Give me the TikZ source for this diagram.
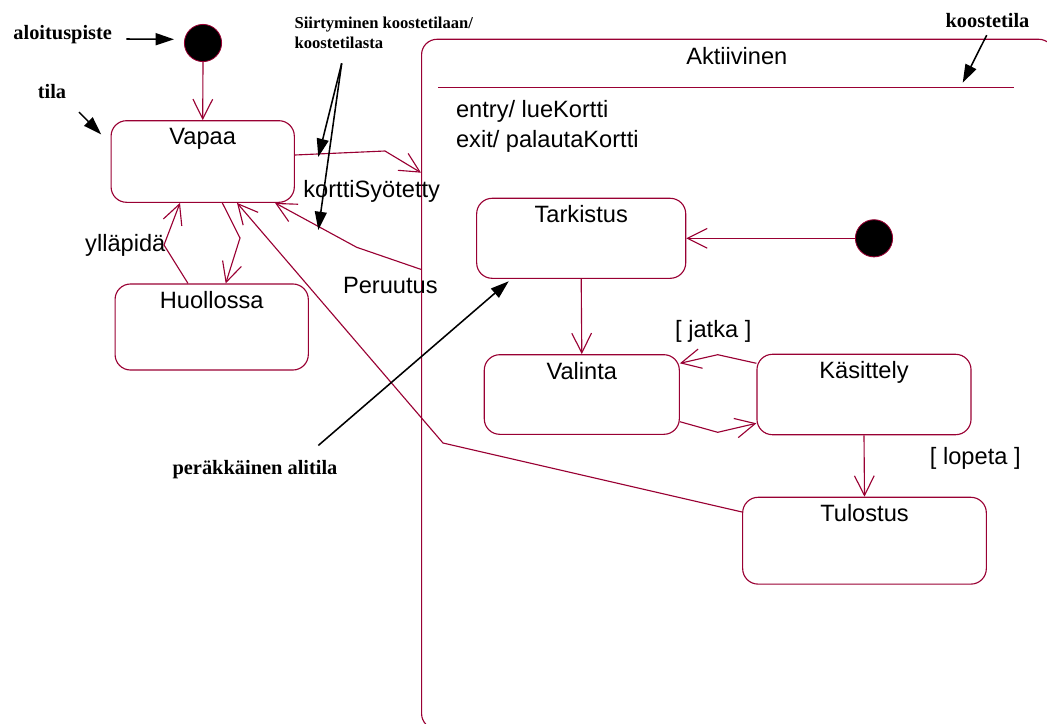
\documentclass[tikz,border=0pt]{standalone}
\usepackage{fontspec}
\setmainfont{Liberation Sans}
\newfontfamily\notefont{Liberation Serif}
\usetikzlibrary{arrows.meta, calc, positioning}
\definecolor{umlred}{RGB}{153,0,51}

\begin{document}
\begin{tikzpicture}[
    x=0.025cm, y=-0.025cm,
    state/.style={rectangle, rounded corners=11pt, draw=umlred, line width=0.8pt, inner sep=0pt},
    statename/.style={font=\fontsize{16.8}{20}\selectfont, inner sep=0pt, anchor=north, yshift=-5.5pt},
    composite/.style={rectangle, rounded corners=11pt, draw=umlred, line width=0.8pt, inner sep=0pt},
    initial/.style={circle, fill=black, draw=umlred, line width=0.6pt, minimum size=0.93cm, inner sep=0pt},
    translabel/.style={font=\fontsize{16.8}{20}\selectfont, inner sep=0pt},
    notelabel/.style={font=\notefont\bfseries\fontsize{14.5}{17}\selectfont, inner sep=0pt},
    trans/.style={draw=umlred, line width=0.8pt, -{Straight Barb[length=14pt, width=14pt]}},
    note/.style={line width=1.1pt, -{Triangle[length=13pt, width=8.5pt]}}
]
\useasboundingbox (0,0) rectangle (1047,724);

% outer states
\node[initial] (start1) at (203,43) {};
\node[state, minimum width=4.58cm, minimum height=2.04cm, label={[statename]north:Vapaa}] (vapaa) at (202.7,161.5) {};
\node[state, minimum width=4.83cm, minimum height=2.15cm, label={[statename]north:Huollossa}] (huollossa) at (211.7,327) {};

% composite state
\node[composite, minimum width=15.81cm, minimum height=17.24cm] (aktiivinen) at (737.85,384.15) {};
\node[translabel] (title) at (736.8,55.7) {Aktiivinen};
\draw[draw=umlred, line width=0.8pt] (438,87.3) -- (1014.3,87.3);
\node[translabel, anchor=west, align=left, font=\fontsize{16.8}{21.3}\selectfont] (actions) at (455.8,126.7) {entry/ lueKortti\\exit/ palautaKortti};

% substates
\node[initial] (start2) at (874,238.3) {};
\node[state, minimum width=5.225cm, minimum height=2.0cm, label={[statename]north:Tarkistus}] (tarkistus) at (581.2,238.3) {};
\node[state, minimum width=4.875cm, minimum height=1.99cm, label={[statename]north:Valinta}] (valinta) at (581.8,394.5) {};
\node[state, minimum width=5.35cm, minimum height=2.01cm, label={[statename]north:Käsittely}] (kasittely) at (864,394.5) {};
\node[state, minimum width=6.09cm, minimum height=2.17cm, label={[statename]north:Tulostus}] (tulostus) at (864.5,540.7) {};

% transition labels
\node[translabel] (yllapida) at (125.3,245.7) {ylläpidä};
\node[translabel] (kortti) at (371.7,191.7) {korttiSyötetty};
\node[translabel] (peruutus) at (390.3,285) {Peruutus};
\node[translabel] (jatka) at (713.3,331.7) {[ jatka ]};
\node[translabel] (lopeta) at (975.3,458.3) {[ lopeta ]};

% transitions
\draw[trans] (start1.south) -- (vapaa.north);
\draw[trans] ($(huollossa.north)+(-23.7,0)$) -- (164,245) -- ($(vapaa.south)+(-22.7,0)$);
\draw[trans] ($(vapaa.south)+(19.6,0)$) -- (240,238) -- ($(huollossa.north)+(14,0)$);
\draw[trans] ($(vapaa.east)+(0,-6.5)$) -- (385,151) -- ($(aktiivinen.north west)+(0,134)$);
\draw[trans] ($(aktiivinen.north west)+(0,230.7)$) -- (356.7,247.3) -- ($(vapaa.south)+(72.3,0)$);
\draw[trans] ($(tulostus.west)+(0,-28.7)$) -- (443,443) -- ($(vapaa.south)+(34.3,0)$);
\draw[trans] (start2.west) -- (tarkistus.east);
\draw[trans] (tarkistus.south) -- (valinta.north);
\draw[trans] ($(kasittely.west)+(0,-31.2)$) -- (717.7,354.7) -- ($(valinta.east)+(0,-31.2)$);
\draw[trans] ($(valinta.east)+(0,27.2)$) -- (717.7,432.3) -- ($(kasittely.west)+(0,28.8)$);
\draw[trans] (kasittely.south) -- (tulostus.north);

% annotations
\node[notelabel] (aloitus) at (62.7,35) {aloituspiste};
\node[notelabel] (tila) at (52,91.7) {tila};
\node[notelabel, anchor=west, align=left, font=\notefont\bfseries\fontsize{11.8}{14.6}\selectfont] (siirtyminen) at (294.3,33) {Siirtyminen koostetilaan/\\koostetilasta};
\node[notelabel] (koostetila) at (987.5,20.7) {koostetila};
\node[notelabel] (alitila) at (255,470) {peräkkäinen alitila};

\coordinate (siirto) at (341.7,63.3);
\coordinate (kortti-tip) at (318.3,157);
\coordinate (peruutus-tip) at (318.3,230);
\coordinate (koostetila-tip) at (962.7,82.7);

\draw[note] ($(aloitus.east)+(14,4)$) -- ($(start1.west)+(-10,-3.7)$);
\draw[note] ($(tila.south east)+(12.6,13)$) -- ($(vapaa.north west)+(-9.3,14.3)$);
\draw[note] (siirto) -- (kortti-tip);
\draw[note] (siirto) -- (peruutus-tip);
\draw[note] ($(koostetila.south)+(-0.8,7)$) -- (koostetila-tip);
\draw[note] ($(alitila.north)+(63.3,-15)$) -- ($(tarkistus.south west)+(32.6,2.4)$);

\end{tikzpicture}
\end{document}
